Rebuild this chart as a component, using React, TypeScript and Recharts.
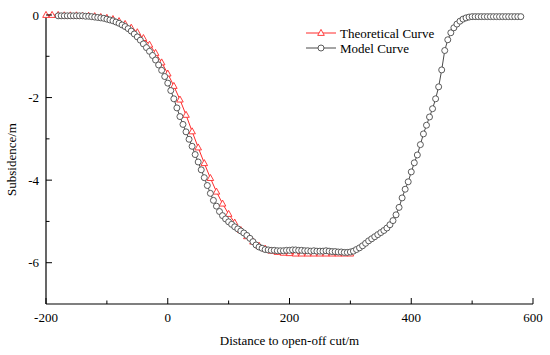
import { LineChart, Line, XAxis, YAxis, Label } from 'recharts';

const FONT = '"Liberation Serif", "Times New Roman", serif';

// model curve, sampled every 5 m
const MODEL_X = [
  -180, -175, -170, -165, -160, -155, -150, -145, -140, -135, -130, -125, -120, -115, -110, -105, -100, -95, -90, -85,
  -80, -75, -70, -65, -60, -55, -50, -45, -40, -35, -30, -25, -20, -15, -10, -5, 0, 5, 10, 15,
  20, 25, 30, 35, 40, 45, 50, 55, 60, 65, 70, 75, 80, 85, 90, 95, 100, 105, 110, 115,
  120, 125, 130, 135, 140, 145, 150, 155, 160, 165, 170, 175, 180, 185, 190, 195, 200, 205, 210, 215,
  220, 225, 230, 235, 240, 245, 250, 255, 260, 265, 270, 275, 280, 285, 290, 295, 300, 305, 310, 315,
  320, 325, 330, 335, 340, 345, 350, 355, 360, 365, 370, 375, 380, 385, 390, 395, 400, 405, 410, 415,
  420, 425, 430, 435, 440, 445, 450, 455, 460, 465, 470, 475, 480, 485, 490, 495, 500, 505, 510, 515,
  520, 525, 530, 535, 540, 545, 550, 555, 560, 565, 570, 575, 580,
];
const MODEL_Y = [
  -0.02, -0.02, -0.02, -0.02, -0.02, -0.02, -0.02, -0.02, -0.02, -0.03, -0.03, -0.04, -0.05, -0.06, -0.07, -0.08, -0.10, -0.12, -0.14, -0.17,
  -0.20, -0.24, -0.28, -0.33, -0.39, -0.46, -0.53, -0.61, -0.70, -0.79, -0.88, -0.98, -1.09, -1.21, -1.34, -1.49, -1.65, -1.83, -2.03, -2.25,
  -2.46, -2.65, -2.83, -3.01, -3.18, -3.38, -3.56, -3.75, -3.94, -4.13, -4.32, -4.49, -4.63, -4.76, -4.86, -4.94, -5.01, -5.07, -5.13, -5.18,
  -5.23, -5.28, -5.34, -5.41, -5.49, -5.57, -5.62, -5.65, -5.68, -5.69, -5.70, -5.70, -5.71, -5.71, -5.71, -5.70, -5.70, -5.69, -5.69, -5.70,
  -5.70, -5.71, -5.71, -5.72, -5.71, -5.72, -5.72, -5.72, -5.71, -5.72, -5.73, -5.73, -5.74, -5.74, -5.75, -5.75, -5.74, -5.72, -5.68, -5.64,
  -5.59, -5.53, -5.47, -5.42, -5.37, -5.32, -5.27, -5.22, -5.16, -5.08, -4.98, -4.84, -4.66, -4.43, -4.22, -4.04, -3.80, -3.58, -3.39, -3.14,
  -2.88, -2.67, -2.47, -2.27, -2.03, -1.74, -1.33, -0.86, -0.60, -0.43, -0.31, -0.22, -0.15, -0.10, -0.07, -0.05, -0.04, -0.04, -0.04, -0.04,
  -0.04, -0.04, -0.04, -0.04, -0.04, -0.04, -0.04, -0.04, -0.04, -0.04, -0.04, -0.04, -0.04,
];

// theoretical curve, sampled every 10 m
const THEORY_X = [
  -200, -190, -180, -170, -160, -150, -140, -130, -120, -110, -100, -90, -80, -70, -60, -50, -40, -30, -20, -10,
  0, 10, 20, 30, 40, 50, 60, 70, 80, 90, 100, 110, 120, 130, 140, 150, 160, 170, 180, 190,
  200, 210, 220, 230, 240, 250, 260, 270, 280, 290, 300,
];
const THEORY_Y = [
  0, 0, 0, -0.01, -0.01, -0.01, -0.02, -0.02, -0.03, -0.05, -0.07, -0.10, -0.15, -0.22, -0.31, -0.42, -0.56, -0.72, -0.92, -1.15,
  -1.42, -1.72, -2.05, -2.42, -2.82, -3.21, -3.59, -3.95, -4.28, -4.57, -4.82, -5.03, -5.21, -5.36, -5.49, -5.59, -5.66, -5.71, -5.74, -5.76,
  -5.77, -5.78, -5.78, -5.78, -5.78, -5.78, -5.78, -5.78, -5.78, -5.78, -5.78,
];

const X_TICKS = [-200, -100, 0, 100, 200, 300, 400, 500, 600];
const Y_TICKS = [0, -1, -2, -3, -4, -5, -6];

const model = MODEL_X.map((x, i) => ({ x, y: MODEL_Y[i] }));
const theory = THEORY_X.map((x, i) => ({ x, y: THEORY_Y[i] }));

const RED = '#ff2a2a';
const GREY = '#4a4a4a';

function XTick({ x, y, payload }: any) {
  const major = payload.value % 200 === 0;
  return (
    <g>
      <line x1={x} x2={x} y1={y} y2={y - (major ? 6 : 3.5)} stroke="#000" strokeWidth={1} />
      {major && (
        <text x={x} y={y + 17.5} textAnchor="middle" fontSize={13} fontFamily={FONT} fill="#000">
          {payload.value}
        </text>
      )}
    </g>
  );
}

function YTick({ x, y, payload }: any) {
  const major = payload.value % 2 === 0;
  return (
    <g>
      <line x1={x} x2={x + (major ? 6 : 3.5)} y1={y} y2={y} stroke="#000" strokeWidth={1} />
      {major && (
        <text x={x - 7} y={y + 4.5} textAnchor="end" fontSize={13} fontFamily={FONT} fill="#000">
          {payload.value}
        </text>
      )}
    </g>
  );
}

function Tri({ cx, cy }: any) {
  if (cx == null || cy == null) return null;
  return <path d={`M${cx},${cy - 3.6} L${cx + 3.3},${cy + 2.4} L${cx - 3.3},${cy + 2.4} Z`} fill="#fff" stroke={RED} strokeWidth={0.9} />;
}

function Circ({ cx, cy }: any) {
  if (cx == null || cy == null) return null;
  return <circle cx={cx} cy={cy} r={3} fill="#fff" stroke={GREY} strokeWidth={0.9} />;
}

function LegendBox() {
  return (
    <svg width={150} height={40} style={{ position: 'absolute', left: 300, top: 20 }}>
      <line x1={6} x2={36} y1={13} y2={13} stroke={RED} strokeWidth={1} />
      <Tri cx={21} cy={13} />
      <text x={40} y={17.5} fontSize={13} fontFamily={FONT} fill="#000">Theoretical Curve</text>
      <line x1={6} x2={36} y1={28} y2={28} stroke={GREY} strokeWidth={1} />
      <Circ cx={21} cy={28} />
      <text x={40} y={32.5} fontSize={13} fontFamily={FONT} fill="#000">Model Curve</text>
    </svg>
  );
}

export default function App() {
  return (
    <div style={{ position: 'relative', width: 550, height: 355, background: '#fff' }}>
      <style>{'body{margin:0}'}</style>
      <LineChart width={550} height={355} margin={{ top: 15, right: 17, left: 0, bottom: 0 }}>
        <XAxis
          type="number"
          dataKey="x"
          domain={[-200, 600]}
          ticks={X_TICKS}
          interval={0}
          height={51}
          tickSize={0}
          tickMargin={0}
          tickLine={false}
          tick={<XTick />}
          axisLine={{ stroke: '#000', strokeWidth: 1.2 }}
          allowDuplicatedCategory={false}
        >
          <Label value="Distance to open-off cut/m" position="insideBottom" offset={10} style={{ fontSize: 13, fontFamily: FONT, fill: '#000' }} />
        </XAxis>
        <YAxis
          type="number"
          dataKey="y"
          domain={[-7, 0]}
          ticks={Y_TICKS}
          interval={0}
          width={46}
          tickSize={0}
          tickMargin={0}
          tickLine={false}
          tick={<YTick />}
          axisLine={{ stroke: '#000', strokeWidth: 1.2 }}
        >
          <Label value="Subsidence/m" angle={-90} position="insideLeft" offset={11} style={{ fontSize: 13, fontFamily: FONT, fill: '#000', textAnchor: 'middle' }} />
        </YAxis>
        <Line data={theory} dataKey="y" stroke={RED} strokeWidth={1} dot={<Tri />} activeDot={false} isAnimationActive={false} />
        <Line data={model} dataKey="y" stroke={GREY} strokeWidth={1} dot={<Circ />} activeDot={false} isAnimationActive={false} />
      </LineChart>
      <LegendBox />
    </div>
  );
}
